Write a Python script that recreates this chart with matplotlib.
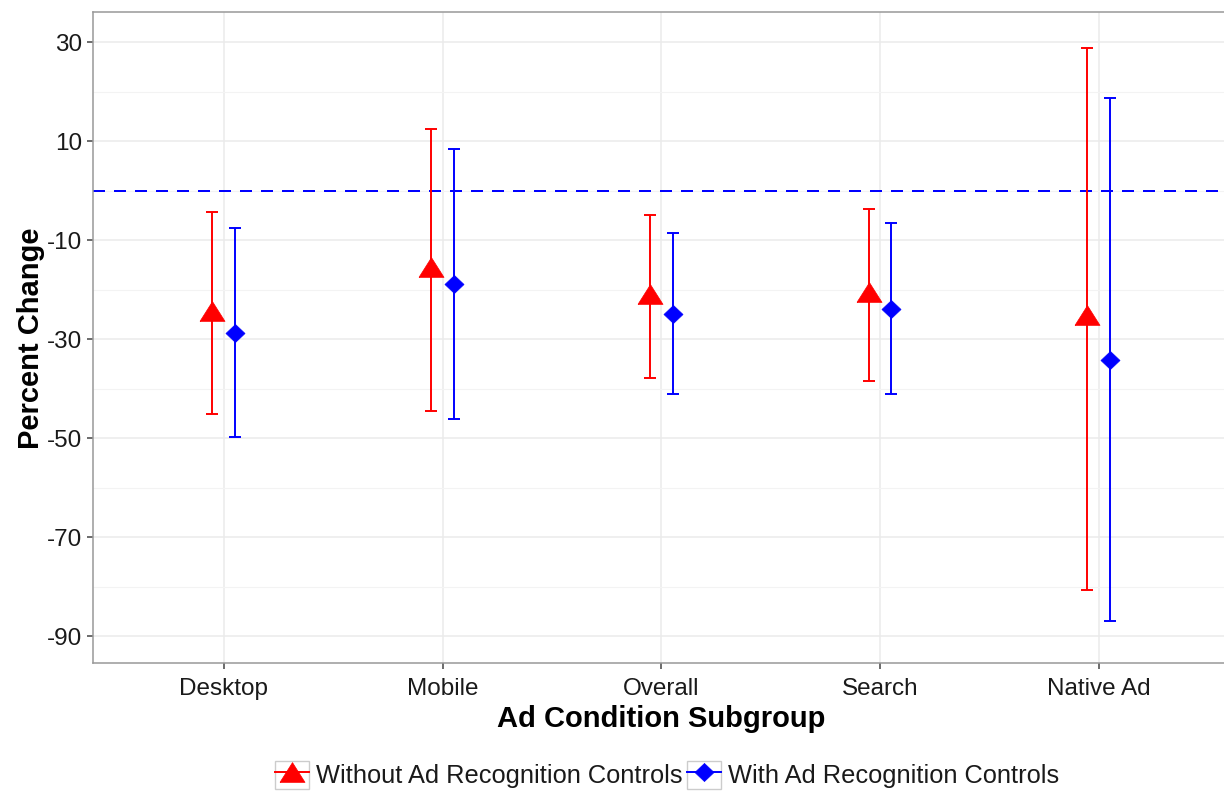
import matplotlib
matplotlib.use("Agg")
import matplotlib.pyplot as plt
from matplotlib.lines import Line2D
from matplotlib.patches import Rectangle
from matplotlib.ticker import FixedLocator
import numpy as np

# ---- data -------------------------------------------------------------
categories = ["Desktop", "Mobile", "Overall", "Search", "Native Ad"]

without_est = [-24.3, -15.5, -20.8, -20.5, -25.1]
without_lo = [-45.2, -44.5, -37.9, -38.4, -80.6]
without_hi = [-4.3, 12.4, -5.0, -3.6, 28.9]

with_est = [-28.7, -18.9, -24.9, -23.8, -34.2]
with_lo = [-49.7, -46.2, -41.0, -41.1, -87.0]
with_hi = [-7.5, 8.4, -8.6, -6.6, 18.7]

series_labels = ["Without Ad Recognition Controls", "With Ad Recognition Controls"]
y_ticks = [30, 10, -10, -30, -50, -70, -90]
y_minor = [20, 0, -20, -40, -60, -80]

# ---- style ------------------------------------------------------------
plt.rcParams["font.family"] = ["Liberation Sans", "DejaVu Sans"]
plt.rcParams["axes.unicode_minus"] = False
RED = "#ff0000"
BLUE = "#0000ff"
TICK_FS = 17.5
LEG_FS = 18.3
TITLE_FS = 21

tri = [(-1, -0.79), (1, -0.79), (0, 0.79), (-1, -0.79)]
dia = [(0, 0.95), (1, 0), (0, -0.95), (-1, 0), (0, 0.95)]

fig = plt.figure(figsize=(12.24, 7.91), dpi=100)
W, H = 1224, 791
left_px, right_px, top_px, bot_px = 92.5, 1230, 12.3, 663.3
ax = fig.add_axes([left_px / W, 1 - bot_px / H,
                   (right_px - left_px) / W, (bot_px - top_px) / H])

x = np.arange(1, len(categories) + 1)
dodge = 0.052

ax.set_xlim(0.4, 5.6)
ax.set_ylim(-95.5, 36.06)

# grid
ax.yaxis.set_major_locator(FixedLocator(y_ticks))
ax.yaxis.set_minor_locator(FixedLocator(y_minor))
ax.set_xticks(x)
ax.set_xticklabels(categories)
ax.grid(which="major", color="#ebebeb", lw=1.1, zorder=0)
ax.grid(which="minor", axis="y", color="#f3f3f3", lw=0.8, zorder=0)
ax.set_axisbelow(True)

# reference line at zero
ax.axhline(0, color=BLUE, lw=1.44, ls=(0, (6, 4.5)), zorder=2)

def draw_series(xs, est, lo, hi, color, marker, ms):
    est = np.asarray(est)
    yerr = np.vstack([est - np.asarray(lo), np.asarray(hi) - est])
    ax.errorbar(xs, est, yerr=yerr, fmt="none", ecolor=color,
                elinewidth=1.4, capsize=4, capthick=1.4, zorder=3)
    ax.plot(xs, est, ls="none", marker=marker, ms=ms, color=color,
            mec=color, mew=0.5, zorder=4)

draw_series(x - dodge, without_est, without_lo, without_hi, RED, tri, 18)
draw_series(x + dodge, with_est, with_lo, with_hi, BLUE, dia, 13.7)

# axes styling
for side in ["top", "left", "bottom", "right"]:
    ax.spines[side].set_color("#999999")
    ax.spines[side].set_linewidth(1.1)
ax.tick_params(axis="both", which="major", length=4.5, width=1.1,
               color="#444444", labelsize=TICK_FS, labelcolor="#1a1a1a")
ax.tick_params(axis="x", which="major", pad=6)
ax.tick_params(axis="y", which="major", pad=3)
ax.tick_params(axis="both", which="minor", length=0)

ax.set_xlabel("Ad Condition Subgroup", fontsize=TITLE_FS, fontweight="bold",
              labelpad=4)
ax.set_ylabel("Percent Change", fontsize=TITLE_FS, fontweight="bold",
              labelpad=1)

# legend
handles = [
    Line2D([0], [0], color=RED, lw=1.4, marker=tri, ms=18, mec=RED, mew=0.5),
    Line2D([0], [0], color=BLUE, lw=1.4, marker=dia, ms=13.7, mec=BLUE, mew=0.5),
]
leg = fig.legend(handles, series_labels, loc="center",
                 bbox_to_anchor=(0.545, 1 - 775 / H), ncol=2, frameon=False,
                 fontsize=LEG_FS, handlelength=1.34, handleheight=1.34,
                 handletextpad=0.25, columnspacing=0.2, borderpad=0,
                 borderaxespad=0)
for t in leg.get_texts():
    t.set_color("#1a1a1a")

# grey boxes around each legend key
fig.canvas.draw()
renderer = fig.canvas.get_renderer()
inv = fig.transFigure.inverted()
for col in leg._legend_handle_box.get_children():
    for row in col.get_children():
        da = row.get_children()[0]
        bb = da.get_window_extent(renderer)
        (x0, y0), (x1, y1) = inv.transform([[bb.x0, bb.y0], [bb.x1, bb.y1]])
        fig.patches.append(Rectangle((x0, y0), x1 - x0, y1 - y0,
                                     transform=fig.transFigure, fill=False,
                                     edgecolor="#cccccc", lw=1.0, zorder=1))

fig.savefig("out.png", dpi=100)
